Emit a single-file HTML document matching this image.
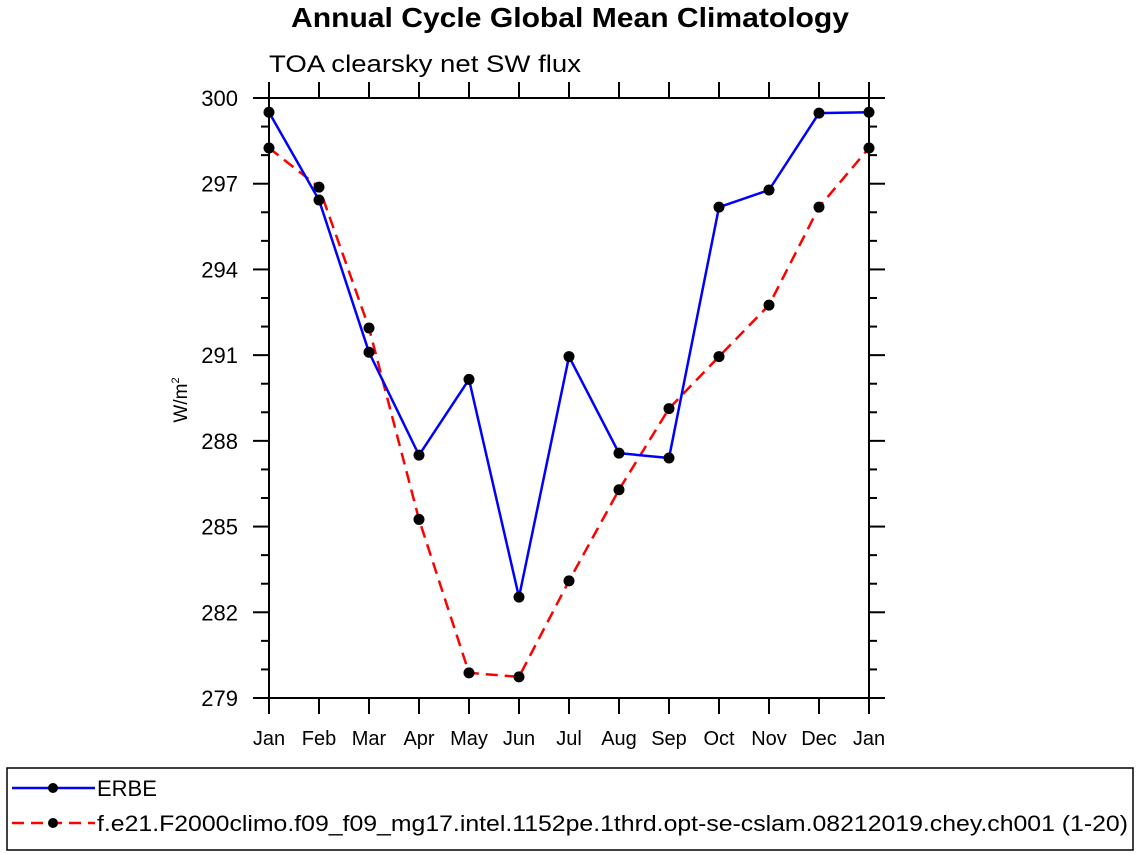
<!DOCTYPE html>
<html><head><meta charset="utf-8"><style>
body{margin:0;background:#fff;}
svg{display:block;font-family:"Liberation Sans",Arial,sans-serif;}
</style></head><body>
<svg id="chart" width="1138" height="854">
<text x="291" y="27" font-size="28" font-weight="bold" textLength="558" lengthAdjust="spacingAndGlyphs">Annual Cycle Global Mean Climatology</text>
<text x="269" y="72" font-size="24" textLength="312" lengthAdjust="spacingAndGlyphs">TOA clearsky net SW flux</text>
<text transform="translate(187,400) rotate(-90)" text-anchor="middle" font-size="19">W/m<tspan font-size="11" dy="-8">2</tspan></text>
<g id="axes"></g>
<g id="series"></g>
<rect x="7" y="768" width="1126" height="82" fill="none" stroke="#000" stroke-width="1.5"/>
<g>
<line x1="12" y1="788" x2="95" y2="788" stroke="#0000ff" stroke-width="2.5"/>
<circle cx="53" cy="788" r="5" fill="#000"/>
<text x="97" y="796" font-size="22">ERBE</text></g>
<g>
<line x1="12" y1="823" x2="95" y2="823" stroke="#ff0000" stroke-width="2.5" stroke-dasharray="12,7"/>
<circle cx="53" cy="823" r="5" fill="#000"/>
<text x="97" y="831" font-size="22" textLength="1031" lengthAdjust="spacingAndGlyphs">f.e21.F2000climo.f09_f09_mg17.intel.1152pe.1thrd.opt-se-cslam.08212019.chey.ch001 (1-20)</text></g>
</svg>
<script>
const months=["Jan","Feb","Mar","Apr","May","Jun","Jul","Aug","Sep","Oct","Nov","Dec","Jan"];
const yTicks=[279,282,285,288,291,294,297,300];
const erbe=[299.5,296.43,291.1,287.5,290.15,282.53,290.95,287.57,287.4,296.18,296.78,299.47,299.5];
const model=[298.25,296.88,291.95,285.25,279.88,279.74,283.1,286.29,289.13,290.95,292.75,296.18,298.25];
const NS="http://www.w3.org/2000/svg";
const X0=269,DX=50,Y0=698,YT=98,YMIN=279,YMAX=300;
const xs=i=>X0+i*DX;
const ys=v=>Y0-(v-YMIN)/(YMAX-YMIN)*(Y0-YT);
function mk(tag,attrs,parent){const e=document.createElementNS(NS,tag);for(const k in attrs)e.setAttribute(k,attrs[k]);parent.appendChild(e);return e;}
const ax=document.getElementById('axes');
const sw={stroke:"#000","stroke-width":2};
let e;
e=mk('line',Object.assign({x1:253,y1:YT,x2:885,y2:YT},sw),ax);


e=mk('line',Object.assign({x1:253,y1:Y0,x2:885,y2:Y0},sw),ax);


e=mk('line',Object.assign({x1:269,y1:82,x2:269,y2:714},sw),ax);


e=mk('line',Object.assign({x1:869,y1:82,x2:869,y2:714},sw),ax);


months.forEach((m,i)=>{
  const x=xs(i);
  mk('line',Object.assign({x1:x,y1:82,x2:x,y2:YT},sw),ax);
  mk('line',Object.assign({x1:x,y1:Y0,x2:x,y2:714},sw),ax);
  const t=mk('text',{x:x,y:745,"text-anchor":"middle","font-size":20},ax);
  t.textContent=m;
  
  
});
for(let v=YMIN;v<=YMAX;v++){
  const y=ys(v);const major=(v-YMIN)%3===0;
  const L=major?16:8;
  mk('line',Object.assign({x1:269-L,y1:y,x2:269,y2:y},sw),ax);
  mk('line',Object.assign({x1:869,y1:y,x2:869+L,y2:y},sw),ax);
}
yTicks.forEach(v=>{
  const t=mk('text',{x:238,y:ys(v)+8,"text-anchor":"end","font-size":22},ax);
  t.textContent=v;
  
  
});
const sg=document.getElementById('series');
function draw(vals,color,dash,name){
  const p=mk('polyline',{points:vals.map((v,i)=>xs(i)+","+ys(v)).join(" "),fill:"none",stroke:color,"stroke-width":2.5,"stroke-dasharray":dash},sg);
  
  
  vals.forEach((v,i)=>{
    const c=mk('circle',{cx:xs(i),cy:ys(v),r:5.5,fill:"#000"},sg);
    
    
  });
}
draw(model,"#ff0000","12,7","model");
draw(erbe,"#0000ff","none","erbe");
</script>
</body></html>
